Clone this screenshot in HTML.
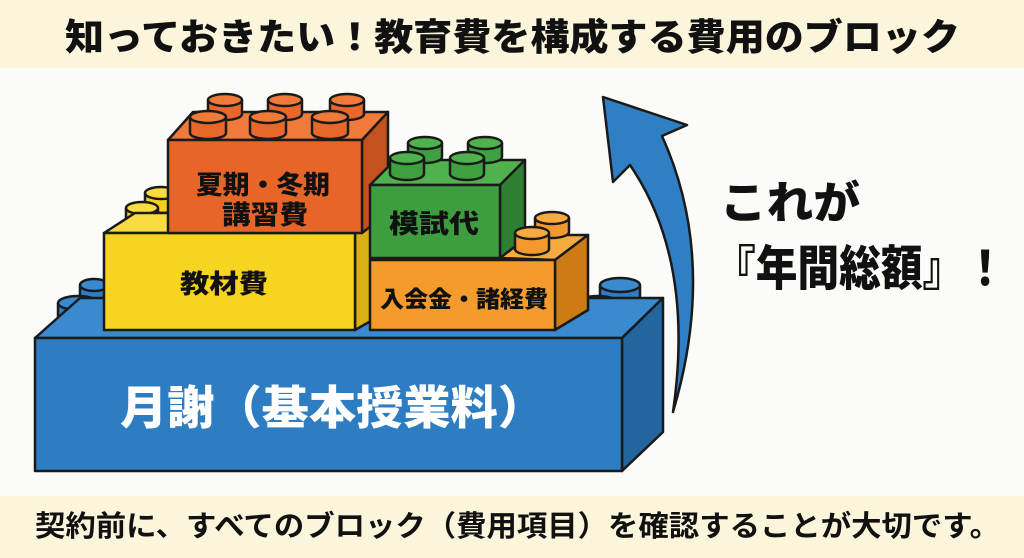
<!DOCTYPE html>
<html><head><meta charset="utf-8"><style>
body{margin:0;width:1024px;height:558px;overflow:hidden;background:#fbfbf8;font-family:"Liberation Sans","Noto Sans CJK JP",sans-serif}
</style></head><body>
<svg width="1024" height="558" viewBox="0 0 1024 558" xmlns="http://www.w3.org/2000/svg" style="display:block">
<rect x="0" y="0" width="1024" height="68" fill="#fbf5dc"/>
<rect x="0" y="68" width="1024" height="428" fill="#fbfbf8"/>
<rect x="0" y="496" width="1024" height="62" fill="#fbf5dc"/>
<text x="65" y="50" textLength="895" lengthAdjust="spacingAndGlyphs" font-family="Noto Sans CJK JP, sans-serif" font-weight="900" font-size="37" fill="#111">知っておきたい！教育費を構成する費用のブロック</text>
<text x="35" y="536" textLength="965" lengthAdjust="spacingAndGlyphs" font-family="Noto Sans CJK JP, sans-serif" font-weight="700" font-size="29" fill="#111">契約前に、すべてのブロック（費用項目）を確認することが大切です。</text>
<g stroke="#1a1a1a" stroke-width="2.5" stroke-linejoin="round">
<g fill="#2f7cc0">
<path d="M80,285 v18 a14,6 0 0 0 28,0 v-18"/><ellipse cx="94" cy="285" rx="14" ry="6" fill="#3a8ad0"/>
<path d="M600,285 v18 a20,7 0 0 0 40,0 v-18"/><ellipse cx="620" cy="285" rx="20" ry="7" fill="#3a8ad0"/>
<path d="M58,303 v18 a20,7 0 0 0 40,0 v-18"/><ellipse cx="78" cy="303" rx="20" ry="7" fill="#3a8ad0"/>
<path d="M578,303 v18 a20,7 0 0 0 40,0 v-18"/><ellipse cx="598" cy="303" rx="20" ry="7" fill="#3a8ad0"/>
</g>
<path d="M35,338 L80,298 L663,298 L622,338 Z" fill="#3a8ad0"/>
<path d="M622,338 L663,298 L663,432 L622,471 Z" fill="#23659f"/>
<rect x="35" y="338" width="587" height="133" fill="#2e7dc2"/>
<g fill="#f5d020">
<path d="M145,193 v14 a16,6 0 0 0 32,0 v-14"/><ellipse cx="161" cy="193" rx="16" ry="6" fill="#f8dc40"/>
<path d="M126,208 v14 a16,6 0 0 0 32,0 v-14"/><ellipse cx="142" cy="208" rx="16" ry="6" fill="#f8dc40"/>
</g>
<path d="M104,233 L135,213 L385,213 L355,233 Z" fill="#f8dc40"/>
<path d="M355,233 L385,213 L385,313 L355,330 Z" fill="#d8b010"/>
<rect x="104" y="233" width="251" height="97" fill="#f7d51e"/>
<path d="M168,140 L193,112 L388,112 L362,140 Z" fill="#ef7a3a"/>
<g fill="#e8672a">
<path d="M208,100 v14 a17,6 0 0 0 34,0 v-14"/><ellipse cx="225" cy="100" rx="17" ry="6" fill="#ef7a3a"/>
<path d="M268,100 v14 a17,6 0 0 0 34,0 v-14"/><ellipse cx="285" cy="100" rx="17" ry="6" fill="#ef7a3a"/>
<path d="M330,100 v14 a17,6 0 0 0 34,0 v-14"/><ellipse cx="347" cy="100" rx="17" ry="6" fill="#ef7a3a"/>
<path d="M190,117 v16 a18,6 0 0 0 36,0 v-16"/><ellipse cx="208" cy="117" rx="18" ry="6" fill="#ef7a3a"/>
<path d="M250,117 v16 a18,6 0 0 0 36,0 v-16"/><ellipse cx="268" cy="117" rx="18" ry="6" fill="#ef7a3a"/>
<path d="M312,117 v16 a18,6 0 0 0 36,0 v-16"/><ellipse cx="330" cy="117" rx="18" ry="6" fill="#ef7a3a"/>
</g>
<path d="M362,140 L388,112 L388,213 L362,233 Z" fill="#c4521c"/>
<rect x="168" y="140" width="194" height="93" fill="#e8652a"/>
<path d="M370,185 L395,160 L525,160 L500,185 Z" fill="#4fb24d"/>
<g fill="#3fa040">
<path d="M408,143 v14 a17,6 0 0 0 34,0 v-14"/><ellipse cx="425" cy="143" rx="17" ry="6" fill="#4fb24d"/>
<path d="M468,143 v14 a17,6 0 0 0 34,0 v-14"/><ellipse cx="485" cy="143" rx="17" ry="6" fill="#4fb24d"/>
<path d="M390,158 v16 a17,6 0 0 0 34,0 v-16"/><ellipse cx="407" cy="158" rx="17" ry="6" fill="#4fb24d"/>
<path d="M450,158 v16 a17,6 0 0 0 34,0 v-16"/><ellipse cx="467" cy="158" rx="17" ry="6" fill="#4fb24d"/>
</g>
<path d="M500,185 L525,160 L525,240 L500,258 Z" fill="#2f7f33"/>
<rect x="370" y="185" width="130" height="73" fill="#3e9d3f"/>
<path d="M500,258 L530,235 L588,235 L555,260 Z" fill="#f6ab40"/>
<g fill="#f29a2e">
<path d="M535,218 v14 a17,6 0 0 0 34,0 v-14"/><ellipse cx="552" cy="218" rx="17" ry="6" fill="#f6ab40"/>
<path d="M515,233 v16 a17,6 0 0 0 34,0 v-16"/><ellipse cx="532" cy="233" rx="17" ry="6" fill="#f6ab40"/>
</g>
<path d="M555,260 L588,235 L588,310 L555,330 Z" fill="#cf7b15"/>
<rect x="370" y="260" width="185" height="70" fill="#f39b2d"/>
<path d="M673,412 Q718,260 662,136 L687,125 L603,97 L613,182 L630,165 Q695,260 673,412 Z" fill="#2f7fc4"/>
</g>
<g font-family="Noto Sans CJK JP, sans-serif" font-weight="900" fill="#111" lengthAdjust="spacingAndGlyphs">
<text x="196" y="194" font-size="26" textLength="134" lengthAdjust="spacingAndGlyphs">夏期・冬期</text>
<text x="222" y="224" font-size="26" textLength="86" lengthAdjust="spacingAndGlyphs">講習費</text>
<text x="389" y="233" font-size="26" textLength="90" lengthAdjust="spacingAndGlyphs">模試代</text>
<text x="180" y="293" font-size="26" textLength="88" lengthAdjust="spacingAndGlyphs">教材費</text>
<text x="380" y="307" font-size="23" textLength="168" lengthAdjust="spacingAndGlyphs">入会金・諸経費</text>
<text x="120" y="424" font-size="46" fill="#fff" textLength="425" lengthAdjust="spacingAndGlyphs">月謝（基本授業料）</text>
<text x="720" y="218" font-size="44" textLength="140" lengthAdjust="spacingAndGlyphs">これが</text>
<text x="714" y="285" font-size="48" textLength="292" lengthAdjust="spacingAndGlyphs">『年間総額』！</text>
</g>
</svg>
</body></html>
